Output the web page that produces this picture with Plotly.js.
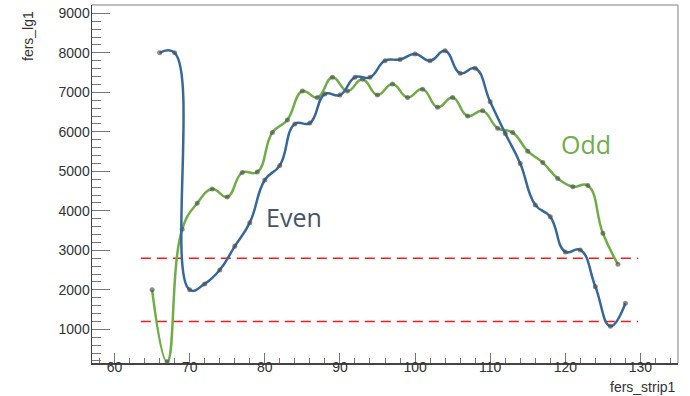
<!DOCTYPE html>
<html>
<head>
<meta charset="utf-8">
<script src="https://cdn.plot.ly/plotly-3.0.1.min.js"></script>
<style>html,body{margin:0;padding:0;background:#fff;}#chart{width:690px;height:396px;}</style>
</head>
<body>
<div id="chart"></div>
<script>
// Even strips (blue)
const evenX = [66, 68, 70, 72, 74, 76, 78, 80, 82, 84, 86, 88, 90, 92, 94, 96, 98, 100, 102, 104, 106, 108, 110, 112, 114, 116, 118, 120, 122, 124, 126, 128];
const evenY = [8000, 8000, 2000, 2150, 2500, 3100, 3700, 4780, 5150, 6200, 6220, 6960, 6930, 7380, 7380, 7800, 7830, 7970, 7800, 8050, 7480, 7610, 6760, 5960, 5200, 4150, 3850, 2960, 3010, 2080, 1080, 1660];
// Odd strips (green)
const oddX = [65, 67, 69, 71, 73, 75, 77, 79, 81, 83, 85, 87, 89, 91, 93, 95, 97, 99, 101, 103, 105, 107, 109, 111, 113, 115, 117, 119, 121, 123, 125, 127];
const oddY = [2000, 180, 3530, 4190, 4550, 4350, 4970, 4980, 5980, 6300, 7030, 6870, 7380, 7030, 7330, 6930, 7210, 6870, 7080, 6620, 6870, 6400, 6530, 6090, 5980, 5510, 5220, 4820, 4610, 4640, 3430, 2650];
// Threshold lines
const thresholdY = [1200, 2800];
const thresholdX = [63.5, 129.7];
const xTitle = "fers_strip1";
const yTitle = "fers_lg1";

const blue = "#36689b";
const green = "#70ad47";
const markerStyle = {size: 5, color: "rgba(80,80,80,0.65)", line: {width: 0}};

const traces = [];
thresholdY.forEach(v => {
  traces.push({x: thresholdX, y: [v, v], mode: "lines", line: {color: "#ff1a1a", width: 1.5, dash: "10px,6px"}, hoverinfo: "skip"});
});
traces.push({x: oddX, y: oddY, mode: "lines+markers", line: {color: green, width: 2.5, shape: "spline", smoothing: 1.3}, marker: markerStyle});
traces.push({x: evenX, y: evenY, mode: "lines+markers", line: {color: blue, width: 2.5, shape: "spline", smoothing: 1.3}, marker: markerStyle});

const tickFont = {family: "Liberation Sans, Arial, sans-serif", size: 14, color: "#333"};
const layout = {
  width: 690, height: 396,
  margin: {l: 92, r: 12, t: 5, b: 33},
  paper_bgcolor: "#fff", plot_bgcolor: "#fff",
  showlegend: false,
  xaxis: {
    range: [57, 135], showgrid: false, zeroline: false,
    showline: true, linecolor: "#444", linewidth: 1.5,
    ticks: "inside", ticklen: 10, tickcolor: "#777", tickwidth: 1,
    dtick: 10, tick0: 0, tickfont: tickFont, ticklabelstandoff: -9,
    minor: {dtick: 2, ticklen: 5, tickcolor: "#777", ticks: "inside"}
  },
  yaxis: {
    range: [147, 9210], showgrid: false, zeroline: false,
    showline: true, linecolor: "#444", linewidth: 1.5,
    ticks: "inside", ticklen: 18, tickcolor: "#777", tickwidth: 1,
    dtick: 1000, tick0: 0, tickfont: tickFont, ticklabelstandoff: -2,
    minor: {dtick: 200, ticklen: 9, tickcolor: "#777", ticks: "inside"}
  },
  shapes: [
    {type: "line", xref: "paper", yref: "paper", x0: 0, x1: 1, y0: 1, y1: 1, line: {color: "#aaa", width: 1.5}},
    {type: "line", xref: "paper", yref: "paper", x0: 1, x1: 1, y0: 0, y1: 1, line: {color: "#aaa", width: 1.5}}
  ],
  annotations: [
    {text: xTitle, xref: "paper", yref: "paper", x: 1, y: 0, xanchor: "right", yanchor: "top", yshift: -14, showarrow: false,
     font: {family: "Liberation Sans, Arial, sans-serif", size: 14, color: "#333"}},
    {text: yTitle, xref: "paper", yref: "paper", x: 0, y: 1, xanchor: "right", yanchor: "top", xshift: -54, yshift: -4, textangle: -90, showarrow: false,
     font: {family: "Liberation Sans, Arial, sans-serif", size: 14, color: "#333"}},
    {text: "Even", xref: "x", yref: "y", x: 83.9, y: 3850, showarrow: false,
     font: {family: "Open Sans, sans-serif", size: 25, color: "#44546a"}},
    {text: "Odd", xref: "x", yref: "y", x: 122.8, y: 5680, showarrow: false,
     font: {family: "Open Sans, sans-serif", size: 25, color: green}}
  ]
};
Plotly.newPlot("chart", traces, layout, {staticPlot: true, displayModeBar: false});
</script>
</body>
</html>
